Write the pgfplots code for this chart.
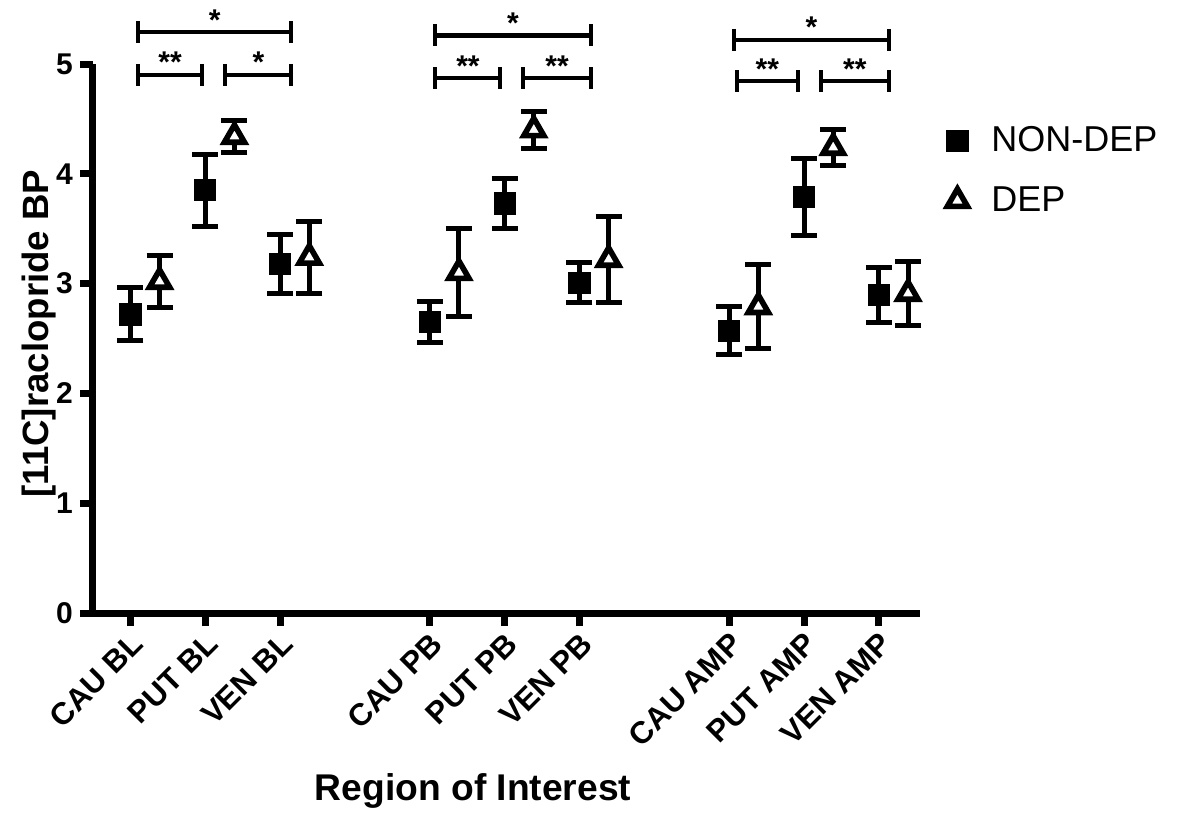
\documentclass[border=0pt]{standalone}
\usepackage{pgfplots}
\pgfplotsset{compat=1.18}
\usepackage{fontspec}
\setmainfont{Liberation Sans}
\newcommand{\brk}[5]{%
  \draw[line width=2.2pt] (axis cs:#1,#3) -- (axis cs:#2,#3);
  \draw[line width=2pt] ([yshift=5.5pt]axis cs:#1,#3) -- ([yshift=-5.5pt]axis cs:#1,#3);
  \draw[line width=2pt] ([yshift=5.5pt]axis cs:#2,#3) -- ([yshift=-5.5pt]axis cs:#2,#3);
  \node[anchor=base, inner sep=0pt, yshift=1pt, font=\bfseries\fontsize{15}{17}\selectfont] at (axis cs:#4,#3) {#5};
}
\begin{document}
\begin{tikzpicture}
\useasboundingbox (-46.5pt,-106.5pt) rectangle (544.5pt,306.5pt);
\begin{axis}[
  at={(0pt,0pt)}, anchor=south west,
  scale only axis, width=413.5pt, height=274.5pt,
  xmin=0.5, xmax=11.55, ymin=0, ymax=5,
  clip=false,
  axis x line*=bottom, axis y line*=left,
  axis line style={line width=3.5pt, -, black},
  tick align=outside,
  major tick length=6.5pt,
  every tick/.style={line width=3.5pt, black},
  xtick={1,2,3,5,6,7,9,10,11},
  xticklabels={CAU BL, PUT BL, VEN BL, CAU PB, PUT PB, VEN PB, CAU AMP, PUT AMP, VEN AMP},
  ytick={0,1,2,3,4,5},
  /pgf/number format/assume math mode=true,
  yticklabel style={font=\bfseries\fontsize{15}{17}\selectfont},
  xticklabel style={rotate=45, anchor=east, yshift=-7pt, xshift=1.5pt, font=\bfseries\fontsize{15.5}{18}\selectfont},
  xlabel={Region of Interest},
  xlabel style={at={(axis description cs:0.4595,-0.3406)}, anchor=base, font=\bfseries\fontsize{18.6}{22}\selectfont},
  ylabel={[11C]raclopride BP},
  ylabel style={at={(axis description cs:-0.0544,0.509)}, anchor=base, font=\bfseries\fontsize{18.3}{22}\selectfont},
  legend style={at={(axis description cs:1.0254,0.806)}, anchor=west, draw=none, fill=none, inner sep=0pt,
    font=\fontsize{18}{21}\selectfont, row sep=12pt},
  legend cell align=left,
  legend image code/.code={\path[draw=none, fill=none] (-8pt,-6pt) rectangle (15pt,6pt); \draw[#1] plot coordinates {(0pt,0pt)};},
]
\addplot[black, only marks, mark=square*, mark size=5.3pt,
  mark options={fill=black, draw=black, line width=0.4pt, solid},
  error bars/.cd, y dir=both, y explicit,
  error bar style={line width=2.5pt, black},
  error mark options={rotate=90, line width=2.5pt, mark size=6.5pt, black}]
  table[x=x, y=y, y error=e] {
x y e
1 2.72 0.24
2 3.85 0.33
3 3.18 0.27
5 2.65 0.19
6 3.73 0.23
7 3.01 0.18
9 2.57 0.22
10 3.79 0.35
11 2.90 0.25
};
\addlegendentry{NON-DEP}
\addplot[black, only marks, mark=triangle*, mark size=5.8pt,
  mark options={fill=white, draw=black, line width=2.8pt, line join=miter, solid},
  error bars/.cd, y dir=both, y explicit,
  error bar style={line width=2.5pt, black},
  error mark options={rotate=90, line width=2.5pt, mark size=6.5pt, black}]
  table[x=x, y=y, y error=e] {
x y e
1.39 3.02 0.24
2.39 4.34 0.15
3.39 3.24 0.33
5.39 3.10 0.40
6.39 4.40 0.17
7.39 3.22 0.39
9.39 2.79 0.38
10.39 4.24 0.16
11.39 2.91 0.29
};
\addlegendentry{DEP}
\brk{1.10}{3.15}{5.29}{2.125}{*}
\brk{1.10}{1.96}{4.90}{1.53}{**}
\brk{2.27}{3.15}{4.90}{2.71}{*}
\brk{5.075}{7.15}{5.26}{6.11}{*}
\brk{5.075}{5.94}{4.87}{5.51}{**}
\brk{6.25}{7.15}{4.87}{6.70}{**}
\brk{9.06}{11.13}{5.22}{10.10}{*}
\brk{9.10}{9.92}{4.845}{9.51}{**}
\brk{10.23}{11.13}{4.845}{10.68}{**}
\end{axis}
\end{tikzpicture}
\end{document}
